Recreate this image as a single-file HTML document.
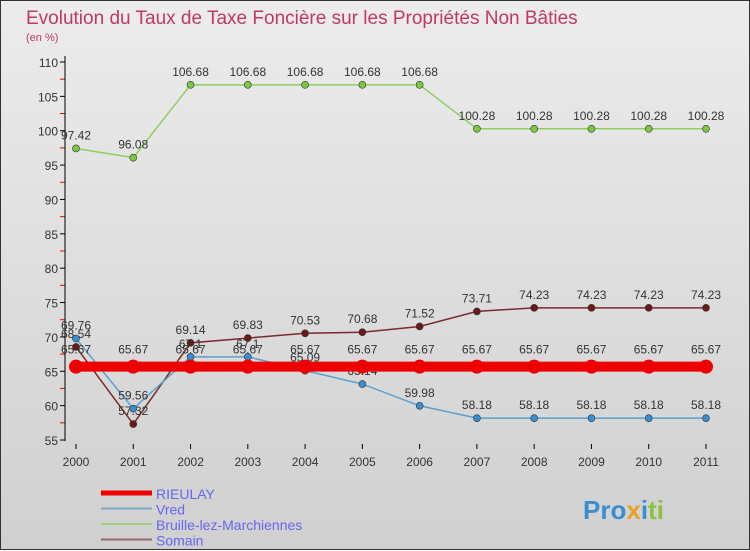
<!DOCTYPE html>
<html><head><meta charset="utf-8"><style>
body{margin:0;width:750px;height:550px;overflow:hidden;font-family:"Liberation Sans",sans-serif;}
#wrap{position:relative;width:748px;height:548px;border:1px solid #333;background:linear-gradient(#ececec,#d0d0d0);}
svg{position:absolute;left:0;top:0}
</style></head><body>
<div id="wrap">
<svg id="c" width="750" height="550">
<text x="25" y="23" font-size="19" fill="#c0386a">Evolution du Taux de Taxe Foncière sur les Propriétés Non Bâties</text>
<text x="25" y="40" font-size="11" fill="#c0386a">(en %)</text>
</svg>
</div>
<script>
const years=["2000","2001","2002","2003","2004","2005","2006","2007","2008","2009","2010","2011"];
const yTicks=[55,60,65,70,75,80,85,90,95,100,105,110];
const rieulay=[65.67,65.67,65.67,65.67,65.67,65.67,65.67,65.67,65.67,65.67,65.67,65.67];
const vred=[69.76,59.56,67.1,67.1,65.09,63.14,59.98,58.18,58.18,58.18,58.18,58.18];
const bruille=[97.42,96.08,106.68,106.68,106.68,106.68,106.68,100.28,100.28,100.28,100.28,100.28];
const somain=[68.54,57.32,69.14,69.83,70.53,70.68,71.52,73.71,74.23,74.23,74.23,74.23];
const NS="http://www.w3.org/2000/svg",svg=document.getElementById('c');
const X=i=>75+i*(630/11), Y=v=>439-(v-55)*(378/55);
function mk(t,a,p){const e=document.createElementNS(NS,t);for(const k in a)e.setAttribute(k,a[k]);(p||svg).appendChild(e);return e;}
yTicks.forEach(v=>{
 const t=mk('text',{x:57,y:Y(v)+5,'text-anchor':'end','font-size':12,fill:'#333'});t.textContent=v;
 
 
 mk('line',{x1:59,x2:64,y1:Y(v),y2:Y(v),stroke:'#000'});
 if(v<110){mk('line',{x1:59,x2:64,y1:Y(v+2.5),y2:Y(v+2.5),stroke:'#e00'});}
});
mk('line',{x1:64,x2:64,y1:55,y2:440,stroke:'#000'});
years.forEach((y,i)=>{
 mk('line',{x1:X(i),x2:X(i),y1:443,y2:448,stroke:'#000'});
 const t=mk('text',{x:X(i),y:465,'text-anchor':'middle','font-size':12,fill:'#333'});t.textContent=y;
 
 
});
function series(data,col,w,r,dot,name,lblOff){
 const g=mk('g',{});
 
 
 mk('polyline',{points:data.map((v,i)=>X(i)+','+Y(v)).join(' '),fill:'none',stroke:col,'stroke-width':w},g);
 data.forEach((v,i)=>{
  const c=mk('circle',{cx:X(i),cy:Y(v),r:r,fill:dot,stroke:'#333','stroke-width':r>5?0:0.6},g);
  
  
  const t=mk('text',{x:X(i),y:Y(v)+lblOff,'text-anchor':'middle','font-size':12,fill:'#333'},g);t.textContent=v;
  
  
 });
}
series(bruille,'#8fce60',1.5,3.5,'#7cc840','bruille',-9);
series(somain,'#7a2a2a',1.5,3.5,'#6a1818','somain',-9);
series(vred,'#5aa0d0',1.5,3.5,'#3a8ed0','vred',-9);
series(rieulay,'#ee0000',10,7,'#ee0000','rieulay',-13);
const leg=[['RIEULAY','#ee0000',5],['Vred','#78a8c8',2],['Bruille-lez-Marchiennes','#9ed080',2],['Somain','#9a6a6a',2]];
leg.forEach((l,i)=>{
 const y=492+i*15.5;
 const ln=mk('line',{x1:100,x2:151,y1:y,y2:y,stroke:l[1],'stroke-width':l[2]});
 
 
 const t=mk('text',{x:155,y:y+6,'font-size':14,fill:'#6666ee'});t.textContent=l[0];
 
 
});
const lg=mk('text',{x:582,y:518,'font-size':26,'font-weight':'bold',fill:'#3a8ed0'});
lg.innerHTML='<tspan fill="#3a8ed0">Pro</tspan><tspan fill="#e8a020">x</tspan><tspan fill="#3a8ed0">i</tspan><tspan fill="#8cc040">ti</tspan>';


</script>
</body></html>
